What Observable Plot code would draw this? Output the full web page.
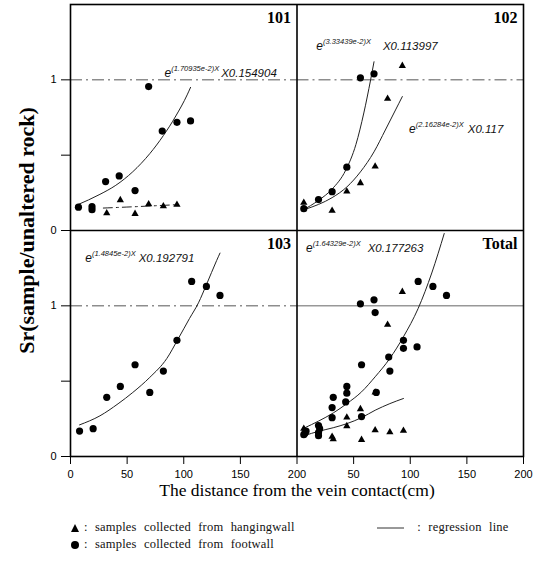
<!DOCTYPE html>
<html><head><meta charset="utf-8">
<script src="https://cdn.jsdelivr.net/npm/d3@7"></script>
<script src="https://cdn.jsdelivr.net/npm/@observablehq/plot@0.6"></script>
<style>
body{margin:0;background:#fff;}
#chart{width:539px;}
#chart svg{display:block;}
#legend{position:relative;width:539px;height:66px;font-family:"Liberation Serif",serif;font-size:12.5px;color:#111;}
.item{position:absolute;white-space:nowrap;word-spacing:4px;letter-spacing:0.2px;display:flex;align-items:center;}
.item svg{margin-right:4px;}
</style></head><body>
<div id="chart"></div>
<div id="legend">
  <div class="item" style="left:70px;top:15px;"><svg width="10" height="10"><path d="M5,1 L9,9 L1,9 Z" fill="#000"/></svg>: samples collected from hangingwall</div>
  <div class="item" style="left:70px;top:32px;"><svg width="10" height="10"><circle cx="5" cy="5" r="4" fill="#000"/></svg>: samples collected from footwall</div>
  <div class="item" style="left:376px;top:15px;"><svg width="30" height="10"><line x1="1" y1="5" x2="28" y2="5" stroke="#333" stroke-width="1"/></svg>&nbsp;: regression line</div>
</div>
<script>
// ---------- data ----------
const panelNames = ["101", "102", "103", "Total"];

// 101
const x101Foot = [7, 19, 19, 31, 43, 57, 69, 81, 94, 106];
const y101Foot = [0.155, 0.158, 0.138, 0.325, 0.362, 0.265, 0.955, 0.66, 0.718, 0.727];
const x101Hang = [32, 44, 57, 69, 82, 94];
const y101Hang = [0.115, 0.202, 0.111, 0.175, 0.162, 0.171];
// 102
const x102Foot = [6, 19, 31, 44, 56, 68];
const y102Foot = [0.145, 0.205, 0.258, 0.42, 1.013, 1.04];
const x102Hang = [6, 31, 44, 56, 69, 80, 93];
const y102Hang = [0.185, 0.131, 0.26, 0.315, 0.425, 0.875, 1.093];
// 103
const x103Foot = [8, 20, 32, 44, 57, 70, 82, 94, 107, 120, 132];
const y103Foot = [0.169, 0.185, 0.393, 0.465, 0.609, 0.425, 0.567, 0.771, 1.162, 1.129, 1.069];

// regression curves
const c101FootX = [6, 26, 40, 55, 70, 82, 93, 103, 106];
const c101FootY = [0.17, 0.24, 0.30, 0.39, 0.51, 0.63, 0.76, 0.90, 0.95];
const c101HangX = [29, 60, 93];
const c101HangY = [0.149, 0.159, 0.171];
const c102FootX = [5, 19, 31, 43, 52, 59, 65, 68];
const c102FootY = [0.135, 0.2, 0.275, 0.4, 0.57, 0.78, 1.0, 1.12];
const c102HangX = [6, 19, 31, 44, 56, 68, 78, 87, 93];
const c102HangY = [0.138, 0.173, 0.218, 0.289, 0.389, 0.522, 0.667, 0.8, 0.889];
const c103FootX = [8, 26, 42, 55, 70, 85, 95, 105, 113, 120, 129, 132];
const c103FootY = [0.21, 0.27, 0.35, 0.425, 0.525, 0.65, 0.78, 0.915, 1.02, 1.14, 1.3, 1.35];
const cTotFootX = [7, 19, 32, 44, 57, 69, 82, 94, 107, 119, 130];
const cTotFootY = [0.191, 0.235, 0.289, 0.351, 0.429, 0.529, 0.651, 0.795, 0.983, 1.218, 1.48];
const cTotHangX = [7, 19, 32, 44, 57, 69, 82, 94];
const cTotHangY = [0.14, 0.167, 0.191, 0.218, 0.258, 0.307, 0.351, 0.385];

// equation texts
const eqExp = ["(1.70935e-2)X", "(3.33439e-2)X", "(2.16284e-2)X", "(1.4845e-2)X", "(1.64329e-2)X"];
const eqMul = ["X0.154904", "X0.113997", "X0.117", "X0.192791", "X0.177263"];

// axes
const xTickValues = [0, 50, 100, 150, 200];
const yTickValues = [0, 0.5, 1];
const refLevel = 1;
const xTitle = "The distance from the vein contact(cm)";
const yTitle = "Sr(sample/unaltered rock)";

// ---------- build ----------
const pts = (xs, ys) => xs.map((x, i) => ({x, y: ys[i]}));
// panel grid: each panel spans 200 in x and 1.5 in y (broken axes)
const panels = [
  {ox: 0, oy: 1.5}, {ox: 200, oy: 1.5}, {ox: 0, oy: 0}, {ox: 200, oy: 0}
].map((p, i) => ({...p, name: panelNames[i]}));

const foot = [pts(x101Foot, y101Foot), pts(x102Foot, y102Foot), pts(x103Foot, y103Foot)];
foot.push(foot.flat());
const hang = [pts(x101Hang, y101Hang), pts(x102Hang, y102Hang), []];
hang.push(hang.flat());
const curves = [
  [{d: pts(c101FootX, c101FootY)}, {d: pts(c101HangX, c101HangY), dash: "9,4,2,4"}],
  [{d: pts(c102FootX, c102FootY)}, {d: pts(c102HangX, c102HangY)}],
  [{d: pts(c103FootX, c103FootY)}],
  [{d: pts(cTotFootX, cTotFootY)}, {d: pts(cTotHangX, cTotHangY)}]
];

const xTicks = [...xTickValues, ...xTickValues.slice(1).map(v => v + 200)];
const yTicks = [...yTickValues, ...yTickValues.map(v => v + 1.5)];

const marks = [];
panels.forEach((p, i) => {
  const X = d => d.x + p.ox, Y = d => d.y + p.oy;
  marks.push(Plot.ruleY([refLevel], {
    y: d => d + p.oy, x1: () => p.ox, x2: () => p.ox + 200,
    stroke: i === 3 ? "#666" : "#555", strokeWidth: 1,
    strokeDasharray: i === 3 ? null : "12,4,2,4"
  }));
  for (const c of curves[i]) {
    marks.push(Plot.line(c.d, {x: X, y: Y, curve: "monotone-x", stroke: "#222", strokeWidth: 1, strokeDasharray: c.dash || null}));
  }
  marks.push(Plot.dot(hang[i], {x: X, y: Y, symbol: "triangle", r: 2.7, fill: "#000", stroke: "none"}));
  marks.push(Plot.dot(foot[i], {x: X, y: Y, r: 3.6, fill: "#000", stroke: "none"}));
});

marks.push(Plot.frame({stroke: "#000", strokeWidth: 1.6}));
marks.push(Plot.ruleX([200], {stroke: "#000", strokeWidth: 1.6}));
marks.push(Plot.ruleY([1.5], {stroke: "#000", strokeWidth: 1.6}));

// panel names
marks.push(Plot.text(panels, {
  x: d => d.ox + 200, y: d => d.oy + 1.5, text: d => d.name,
  textAnchor: "end", lineAnchor: "top", dx: -6, dy: 7,
  fontFamily: "Liberation Serif", fontWeight: "bold", fontSize: 16, fill: "#000"
}));

// equation labels (anchor of the leading "e", in panel units)
const eqLayout = [
  {panel: 0, k: 0, x: 83, y: 1.02, gap: 2},
  {panel: 1, k: 1, x: 17, y: 1.2, gap: 12},
  {panel: 1, k: 2, x: 99, y: 0.65, gap: 4},
  {panel: 2, k: 3, x: 13, y: 1.29, gap: 3},
  {panel: 3, k: 4, x: 8, y: 1.36, gap: 7}
];
marks.push(Plot.text(eqLayout, {
  x: d => d.x + panels[d.panel].ox, y: d => d.y + panels[d.panel].oy,
  text: d => ["e", eqExp[d.k], eqMul[d.k], d.gap].join("|"),
  textAnchor: "start", lineAnchor: "bottom",
  fontFamily: "Liberation Sans", fontStyle: "italic", fontSize: 12, fill: "#111"
}));

// axis titles
marks.push(Plot.text([yTitle], {text: d => d, frameAnchor: "left", textAnchor: "middle", dx: -44, rotate: -90,
  fontFamily: "Liberation Serif", fontWeight: "bold", fontSize: 22, fill: "#000"}));
marks.push(Plot.text([xTitle], {text: d => d, frameAnchor: "bottom", textAnchor: "middle", dy: 39,
  fontFamily: "Liberation Serif", fontSize: 17.5, fill: "#000"}));

const fmtX = d => String(d > 200 ? d - 200 : d);
const fmtY = d => { const v = d >= 1.5 ? +(d - 1.5).toFixed(3) : d; return v === 0.5 ? "" : String(v); };

const svg = Plot.plot({
  width: 539, height: 505,
  marginLeft: 70, marginRight: 16, marginTop: 4, marginBottom: 49,
  style: {fontFamily: "Liberation Sans", fontSize: "11px", color: "#000", background: "#fff"},
  x: {domain: [0, 400], ticks: xTicks, tickFormat: fmtX, tickSize: 8, tickPadding: 6, label: null},
  y: {domain: [0, 3], ticks: yTicks, tickFormat: fmtY, tickSize: 9, tickPadding: 5, label: null},
  marks
});
document.getElementById("chart").appendChild(svg);

// turn "e|exp|mul|gap" labels into superscripted text
d3.select(svg).selectAll("text").each(function() {
  const t = this.textContent;
  if (!t.includes("|")) return;
  const [e, sup, mul, gap] = t.split("|");
  const sel = d3.select(this);
  sel.text(null);
  sel.append("tspan").attr("font-size", 12).text(e);
  sel.append("tspan").attr("font-size", 7.5).attr("dy", -6).text(sup);
  sel.append("tspan").attr("font-size", 11.5).attr("dy", 6).attr("dx", +gap).text(mul);
});
</script>
</body></html>
